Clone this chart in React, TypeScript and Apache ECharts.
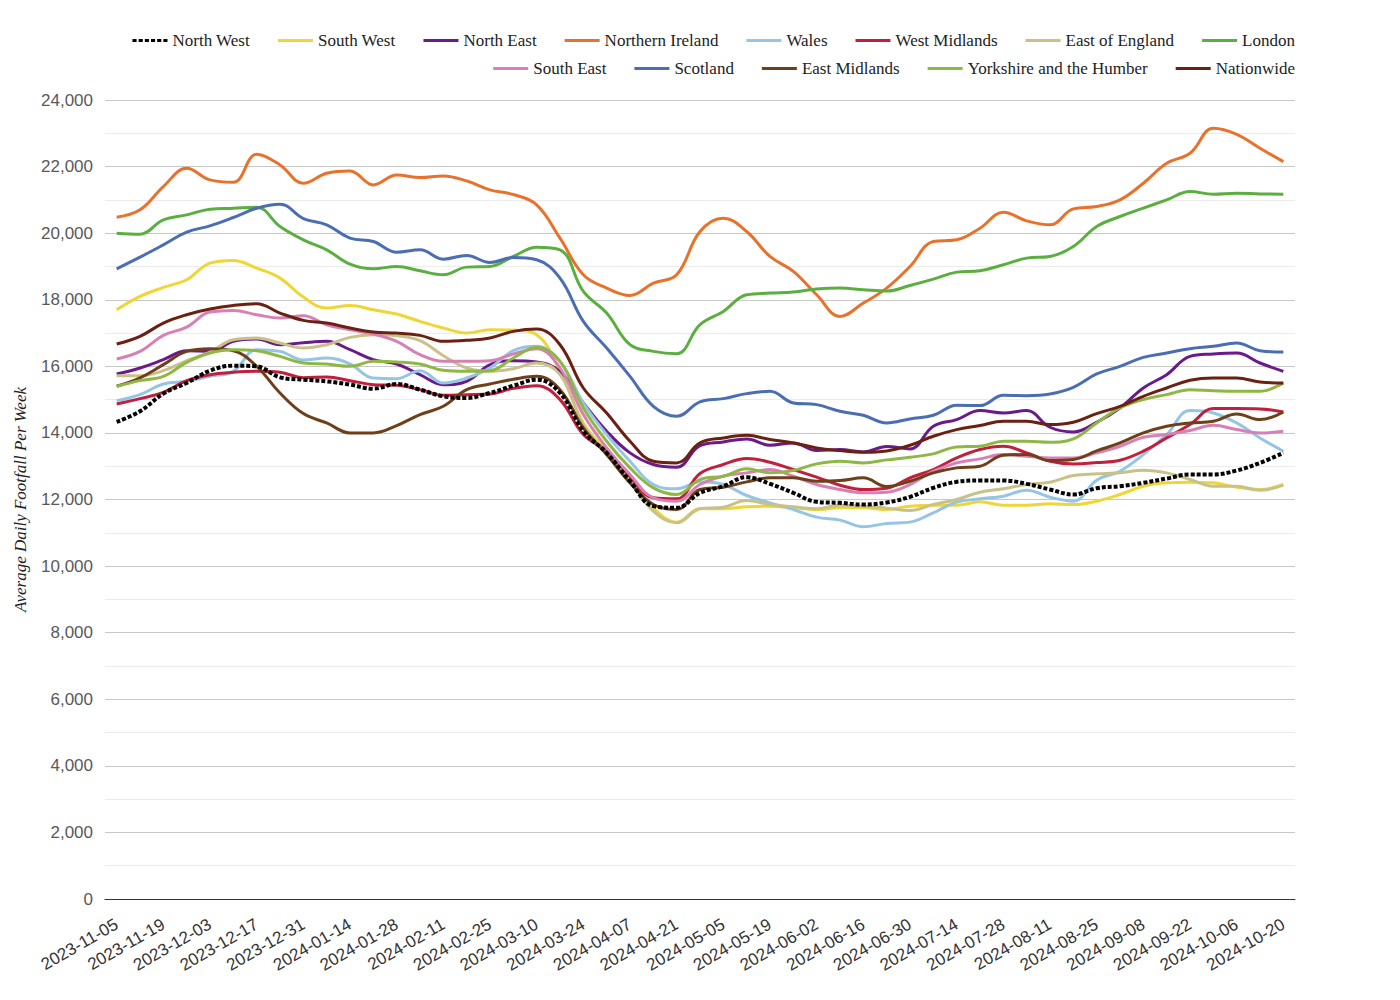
import React, { useEffect, useRef } from 'react';
import * as echarts from 'echarts';

const dates = [
  '2023-11-05', '2023-11-12', '2023-11-19', '2023-11-26', '2023-12-03', '2023-12-10', '2023-12-17', '2023-12-24', '2023-12-31',
  '2024-01-07', '2024-01-14', '2024-01-21', '2024-01-28', '2024-02-04', '2024-02-11', '2024-02-18', '2024-02-25',
  '2024-03-03', '2024-03-10', '2024-03-17', '2024-03-24', '2024-03-31', '2024-04-07', '2024-04-14', '2024-04-21', '2024-04-28',
  '2024-05-05', '2024-05-12', '2024-05-19', '2024-05-26', '2024-06-02', '2024-06-09', '2024-06-16', '2024-06-23', '2024-06-30',
  '2024-07-07', '2024-07-14', '2024-07-21', '2024-07-28', '2024-08-04', '2024-08-11', '2024-08-18', '2024-08-25',
  '2024-09-01', '2024-09-08', '2024-09-15', '2024-09-22', '2024-09-29', '2024-10-06', '2024-10-13', '2024-10-20',
];

const yTicks = [0, 24000, 2000];

const northWest = [14330, 14650, 15180, 15500, 15870, 16020, 16000, 15670, 15600, 15550, 15450, 15330, 15470, 15300, 15100, 15050, 15200, 15420, 15600, 15200, 14050, 13400, 12550, 11800, 11750, 12200, 12400, 12670, 12470, 12200, 11930, 11900, 11850, 11910, 12080, 12350, 12530, 12570, 12570, 12470, 12300, 12150, 12340, 12400, 12500, 12630, 12750, 12750, 12870, 13100, 13400];
const southWest = [17700, 18100, 18370, 18600, 19100, 19180, 18950, 18650, 18080, 17750, 17830, 17700, 17570, 17350, 17150, 17000, 17100, 17090, 16950, 15850, 14300, 13450, 12650, 11750, 11320, 11730, 11720, 11780, 11800, 11750, 11700, 11750, 11750, 11700, 11800, 11830, 11830, 11930, 11830, 11830, 11870, 11850, 11950, 12150, 12400, 12500, 12520, 12500, 12370, 12300, 12450];
const northEast = [15770, 15950, 16200, 16470, 16450, 16750, 16820, 16650, 16710, 16750, 16500, 16200, 16070, 15750, 15450, 15550, 16050, 16170, 16130, 15850, 14900, 14050, 13400, 13050, 12970, 13620, 13730, 13820, 13630, 13700, 13470, 13500, 13430, 13590, 13520, 14200, 14400, 14670, 14600, 14670, 14170, 14030, 14320, 14750, 15350, 15750, 16300, 16370, 16400, 16100, 15850];
const northernIreland = [20480, 20700, 21400, 21950, 21600, 21530, 22370, 22050, 21500, 21800, 21870, 21450, 21750, 21670, 21720, 21570, 21300, 21160, 20850, 19850, 18750, 18350, 18130, 18500, 18750, 20050, 20450, 20050, 19300, 18850, 18150, 17500, 17900, 18350, 19000, 19750, 19800, 20150, 20630, 20370, 20250, 20730, 20800, 21000, 21500, 22100, 22400, 23150, 22970, 22550, 22150];
const wales = [14970, 15150, 15470, 15550, 15700, 15850, 16500, 16450, 16190, 16250, 16070, 15650, 15630, 15870, 15500, 15650, 15950, 16470, 16600, 16150, 14900, 13950, 13150, 12450, 12320, 12530, 12450, 12120, 11900, 11700, 11470, 11380, 11180, 11280, 11320, 11600, 11920, 12020, 12100, 12280, 12070, 11950, 12580, 12850, 13350, 13950, 14670, 14600, 14300, 13850, 13450];
const westMidlands = [14870, 15030, 15220, 15570, 15750, 15820, 15850, 15820, 15660, 15680, 15570, 15450, 15430, 15300, 15130, 15150, 15170, 15340, 15420, 15000, 13950, 13450, 12650, 12050, 12020, 12780, 13050, 13230, 13120, 12900, 12670, 12430, 12300, 12340, 12650, 12900, 13250, 13500, 13600, 13400, 13150, 13070, 13110, 13180, 13450, 13850, 14250, 14730, 14730, 14720, 14630];
const eastOfEngland = [15720, 15720, 15870, 16170, 16430, 16800, 16850, 16700, 16550, 16650, 16870, 16950, 16920, 16770, 16320, 15950, 15850, 15930, 16100, 15750, 14250, 13350, 12550, 11650, 11300, 11720, 11770, 11970, 11850, 11780, 11720, 11830, 11800, 11740, 11670, 11850, 12000, 12220, 12320, 12450, 12520, 12720, 12770, 12800, 12880, 12800, 12600, 12400, 12400, 12280, 12430];
const london = [20000, 19970, 20400, 20550, 20720, 20750, 20780, 20200, 19800, 19500, 19070, 18930, 19000, 18870, 18750, 18980, 19000, 19300, 19580, 19500, 18250, 17600, 16650, 16450, 16380, 17250, 17650, 18150, 18200, 18230, 18320, 18350, 18300, 18260, 18430, 18620, 18830, 18870, 19050, 19250, 19300, 19600, 20200, 20500, 20750, 21000, 21250, 21170, 21200, 21180, 21170];
const southEast = [16220, 16450, 16930, 17180, 17630, 17680, 17550, 17450, 17520, 17250, 17100, 16970, 16750, 16350, 16150, 16150, 16170, 16370, 16530, 15950, 14550, 13550, 12750, 12050, 11950, 12450, 12700, 12800, 12900, 12700, 12450, 12300, 12200, 12220, 12450, 12850, 13100, 13220, 13350, 13300, 13250, 13250, 13400, 13600, 13870, 13950, 14070, 14230, 14100, 14000, 14050];
const scotland = [18930, 19280, 19650, 20030, 20220, 20470, 20750, 20870, 20440, 20250, 19850, 19750, 19430, 19500, 19220, 19330, 19120, 19270, 19200, 18650, 17350, 16550, 15700, 14800, 14500, 14930, 15030, 15180, 15250, 14900, 14850, 14650, 14530, 14300, 14420, 14530, 14830, 14820, 15130, 15120, 15170, 15370, 15770, 16000, 16270, 16400, 16530, 16600, 16700, 16470, 16430];
const eastMidlands = [15400, 15650, 16050, 16450, 16530, 16470, 16000, 15200, 14580, 14300, 14000, 14000, 14220, 14550, 14800, 15300, 15470, 15610, 15700, 15300, 14150, 13350, 12500, 11850, 11700, 12300, 12370, 12530, 12650, 12650, 12550, 12570, 12650, 12390, 12550, 12800, 12950, 13000, 13330, 13350, 13170, 13200, 13460, 13700, 14000, 14200, 14300, 14350, 14570, 14400, 14630];
const yorkshire = [15400, 15570, 15700, 16120, 16400, 16500, 16470, 16300, 16100, 16070, 16000, 16150, 16130, 16070, 15880, 15850, 15870, 16250, 16570, 16150, 14750, 13750, 12950, 12350, 12150, 12600, 12700, 12920, 12800, 12870, 13070, 13150, 13100, 13190, 13270, 13370, 13580, 13600, 13750, 13750, 13720, 13820, 14300, 14750, 15000, 15150, 15300, 15270, 15250, 15250, 15500];
const nationwide = [16670, 16900, 17300, 17550, 17720, 17830, 17880, 17600, 17380, 17300, 17150, 17030, 17000, 16930, 16750, 16780, 16850, 17050, 17120, 16650, 15350, 14600, 13750, 13150, 13100, 13700, 13850, 13930, 13800, 13700, 13550, 13470, 13420, 13460, 13630, 13900, 14100, 14220, 14350, 14350, 14250, 14320, 14580, 14800, 15100, 15350, 15580, 15650, 15650, 15530, 15500];

const legendRow1 = ['North West', 'South West', 'North East', 'Northern Ireland', 'Wales', 'West Midlands', 'East of England', 'London'];
const legendRow2 = ['South East', 'Scotland', 'East Midlands', 'Yorkshire and the Humber', 'Nationwide'];

const seriesDefs = [
  { name: 'South West', data: southWest, color: '#EFD635' },
  { name: 'North East', data: northEast, color: '#6A1A8A' },
  { name: 'Northern Ireland', data: northernIreland, color: '#E8722B' },
  { name: 'Wales', data: wales, color: '#95C5E5' },
  { name: 'West Midlands', data: westMidlands, color: '#C01F3E' },
  { name: 'East of England', data: eastOfEngland, color: '#C9C288' },
  { name: 'London', data: london, color: '#5BAE40' },
  { name: 'South East', data: southEast, color: '#D780B4' },
  { name: 'Scotland', data: scotland, color: '#4A6DB4' },
  { name: 'East Midlands', data: eastMidlands, color: '#6F3F1A' },
  { name: 'Yorkshire and the Humber', data: yorkshire, color: '#8EB744' },
  { name: 'Nationwide', data: nationwide, color: '#6B2011' },
  { name: 'North West', data: northWest, color: '#000000' },
];

const dottedIcon = 'path://M0,0h4v4h-4zM6,0h4v4h-4zM12,0h4v4h-4zM18,0h4v4h-4zM24,0h4v4h-4zM30,0h4v4h-4z';

export default function App() {
  const ref = useRef<HTMLDivElement>(null);
  useEffect(() => {
    const chart = echarts.init(ref.current as HTMLDivElement, null, { renderer: 'svg' });
    const legendText = { fontFamily: 'Liberation Serif', fontSize: 17, color: '#222' };
    const legendBase = {
      right: 105,
      padding: 0,
      orient: 'horizontal',
      itemWidth: 35,
      itemHeight: 3,
      itemGap: 28,
      symbolKeepAspect: false,
      itemStyle: { borderWidth: 0 },
      textStyle: legendText,
    };
    chart.setOption({
      animation: false,
      backgroundColor: '#fff',
      legend: [
        {
          ...legendBase,
          top: 32,
          data: legendRow1.map((n) => ({ name: n, icon: n === 'North West' ? dottedIcon : 'rect' })),
        },
        {
          ...legendBase,
          top: 60,
          data: legendRow2.map((n) => ({ name: n, icon: 'rect' })),
        },
      ],
      grid: { left: 105, right: 105, top: 100, bottom: 101, containLabel: false },
      xAxis: {
        type: 'category',
        data: dates,
        boundaryGap: true,
        axisLine: { show: true, lineStyle: { color: '#333', width: 1 } },
        axisTick: { show: false },
        axisLabel: {
          interval: 1,
          rotate: 30,
          margin: 24,
          fontFamily: 'Liberation Sans',
          fontSize: 17,
          color: '#333',
        },
        splitLine: { show: false },
      },
      yAxis: {
        type: 'value',
        min: yTicks[0],
        max: yTicks[1],
        interval: yTicks[2],
        name: 'Average Daily Footfall Per Week',
        nameLocation: 'middle',
        nameGap: 76,
        nameTextStyle: {
          fontFamily: 'Liberation Serif',
          fontStyle: 'italic',
          fontSize: 17,
          color: '#222',
        },
        axisLine: { show: false },
        axisTick: { show: false },
        axisLabel: {
          margin: 12,
          fontFamily: 'Liberation Sans',
          fontSize: 17,
          color: '#595959',
          formatter: (v: number) => v.toLocaleString('en-US'),
        },
        splitLine: { show: true, lineStyle: { color: '#c8c8c8', width: 1 } },
        minorTick: { show: false, splitNumber: 2 },
        minorSplitLine: { show: true, lineStyle: { color: '#ebebeb', width: 1 } },
      },
      series: seriesDefs.map((s) => ({
        name: s.name,
        type: 'line',
        data: s.data,
        smooth: 0.4,
        symbol: 'none',
        color: s.color,
        lineStyle:
          s.name === 'North West'
            ? { color: s.color, width: 4, type: [4, 2], cap: 'butt' }
            : { color: s.color, width: 3 },
        emphasis: { disabled: true },
      })),
    });
    return () => chart.dispose();
  }, []);
  return (
    <div
      ref={ref}
      style={{ position: 'fixed', left: 0, top: 0, width: 1400, height: 1000, background: '#fff' }}
    />
  );
}
